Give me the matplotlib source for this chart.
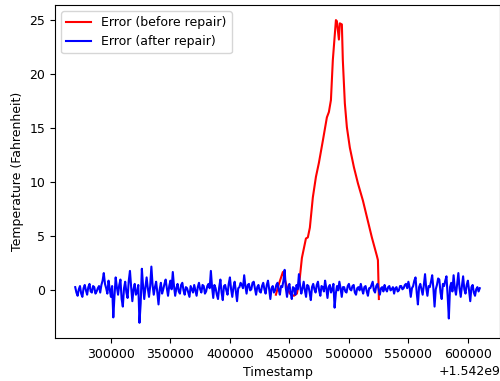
import numpy as np
import matplotlib
matplotlib.use("Agg")
from matplotlib import pyplot as plt

t0 = 1.542e9

# Error before repair (only the part that shows above the after-repair line)
before_t = [438650, 441200, 444530, 447890, 450400, 453800, 456300, 458800,
            460500, 463900, 465500, 467200, 469700, 472300, 474800, 478200,
            481500, 483200, 484900, 486500, 489100, 489900, 491600, 492400,
            494100, 494900, 496600, 498300, 500800, 504200, 507600, 511800,
            515100, 519300, 523500, 524400, 525200]
before_err = [-0.4, 0.6, 1.7, 0.3, -0.3, -0.5, -0.3, 1.2,
              3.0, 4.8, 4.9, 5.8, 8.6, 10.5, 11.8, 13.9,
              16.0, 16.5, 17.6, 21.3, 25.0, 24.9, 23.2, 24.7,
              24.6, 21.3, 17.3, 15.1, 13.2, 11.4, 9.9, 8.3,
              6.8, 4.9, 3.2, 2.8, -0.8]

# Error after repair, sampled every 1000 s from 270000 to 610000
after_t = np.arange(270000, 611000, 1000)
after_err = [
    0.3, -0.2, -0.5, 0.1, 0.4, -0.3, -0.6, 0.2, 0.5, 0.0, -0.4, 0.3, 0.6, -0.1, -0.2, 0.4, 0.3, -0.3, -0.1, 0.2,
    0.4, -0.2, 0.5, 0.9, 1.6, 0.6, 0.2, -0.3, 0.9, 0.1, -0.6, 0.4, -2.5, -0.5, 1.2, 0.3, -0.4, 0.5, 1.0, -0.8,
    -1.5, 0.2, 0.8, -0.2, -0.7, 0.9, 1.8, 0.3, -1.0, 0.1, 0.6, -0.4, -0.2, 0.5, -3.0, -1.2, 2.0, 0.4, -0.8, 0.3,
    1.2, 0.2, -0.6, 0.4, 2.2, 0.5, -0.4, 0.3, 0.8, -0.2, -1.3, 0.1, 0.7, -0.3, 0.1, 0.6, 1.0, 0.2, -0.5, 0.4,
    0.9, 0.1, 1.7, 0.4, -0.5, 0.2, 0.6, -0.1, -0.3, 0.5, 0.7, 0.0, -0.4, 0.3, 0.2, -0.2, -0.6, 0.4, 0.1, -0.2,
    0.5, 0.0, -0.5, 0.3, 0.7, 0.1, -0.2, 0.5, 0.4, -0.3, -0.1, 0.4, 0.6, 0.2, 1.8, 0.3, -0.7, 0.5, 0.2, -0.4,
    -0.8, 0.3, 1.0, -0.2, -0.9, 0.4, 0.5, 0.0, -0.4, 0.6, 1.2, 0.1, -0.6, 0.3, 0.8, -0.1, -1.0, 0.2, 0.3, 0.7,
    0.5, 0.2, 1.4, 0.4, -0.3, 0.5, 0.6, 0.0, 0.1, 0.7, 0.8, 0.2, -0.4, 0.3, 0.5, -0.1, -0.2, 0.4, 0.7, 0.1,
    -0.3, 0.5, 0.9, 0.1, -0.8, 0.2, 0.4, -0.2, 0.0, 0.5, 0.7, 0.1, -0.4, 0.4, 0.3, 0.9, 1.9, 0.2, -0.6, 0.3,
    0.6, -0.2, -0.8, 0.3, 0.2, -0.4, 0.5, 0.1, 1.5, 0.4, -0.3, 0.2, 0.8, 0.0, -0.6, 0.5, 0.4, -0.2, -0.9, 0.3,
    0.6, 0.1, -0.2, 0.5, 0.8, 0.0, -0.5, 0.4, 0.3, -0.1, 0.9, 0.2, -0.7, 0.3, 0.5, -0.2, 0.1, 0.6, -1.6, -0.3,
    0.4, 0.0, 0.8, 0.2, -0.6, 0.3, 0.3, -0.1, -0.2, 0.4, 0.6, 0.1, 0.0, 0.4, 0.5, -0.2, -0.4, 0.2, 0.3, 0.0,
    0.6, 0.1, -0.3, 0.3, 0.4, -0.1, -0.5, 0.2, 0.2, 0.5, 0.8, 0.0, -0.2, 0.4, 0.6, 0.1, -0.4, 0.2, 0.3, -0.1,
    0.5, 0.1, -0.1, 0.3, 0.4, 0.0, 0.1, 0.3, -0.3, 0.2, 0.3, -0.1, 0.0, 0.4, 0.4, 0.1, 0.2, 0.5, 0.6, 0.2,
    0.8, 0.3, -0.6, 0.2, 0.4, 0.9, 1.2, -0.2, -1.3, 0.3, 0.6, 0.1, -0.4, 0.5, 1.5, 0.2, -0.5, 0.4, 0.3, 0.8,
    1.4, 0.2, -1.5, 0.1, 0.5, 1.1, 1.0, -0.2, -0.8, 0.6, 0.4, 0.9, 1.3, -0.5, -2.6, 0.3, 0.7, -0.1, 1.4, 0.2,
    -0.4, 0.6, 1.6, 0.2, -0.6, 0.4, 1.3, 0.1, -0.3, 0.5, 0.9, 0.0, -1.0, 0.3, 0.5, -0.2, -0.5, 0.1, 0.3, -0.1, 0.2,
]

plt.rcParams["font.size"] = 9

fig = plt.figure(figsize=(5.0, 3.81), dpi=100)
ax = fig.add_axes([0.11, 0.113, 0.89, 0.874])
ax.plot(np.array(before_t) + t0, before_err, color="r", label="Error (before repair)")
ax.plot(after_t + t0, after_err, color="b", label="Error (after repair)")
ax.set_xlabel("Timestamp")
ax.set_ylabel("Temperature (Fahrenheit)")
ax.legend(loc="upper left")
fig.savefig("out.png", dpi=100)
plt.close(fig)
